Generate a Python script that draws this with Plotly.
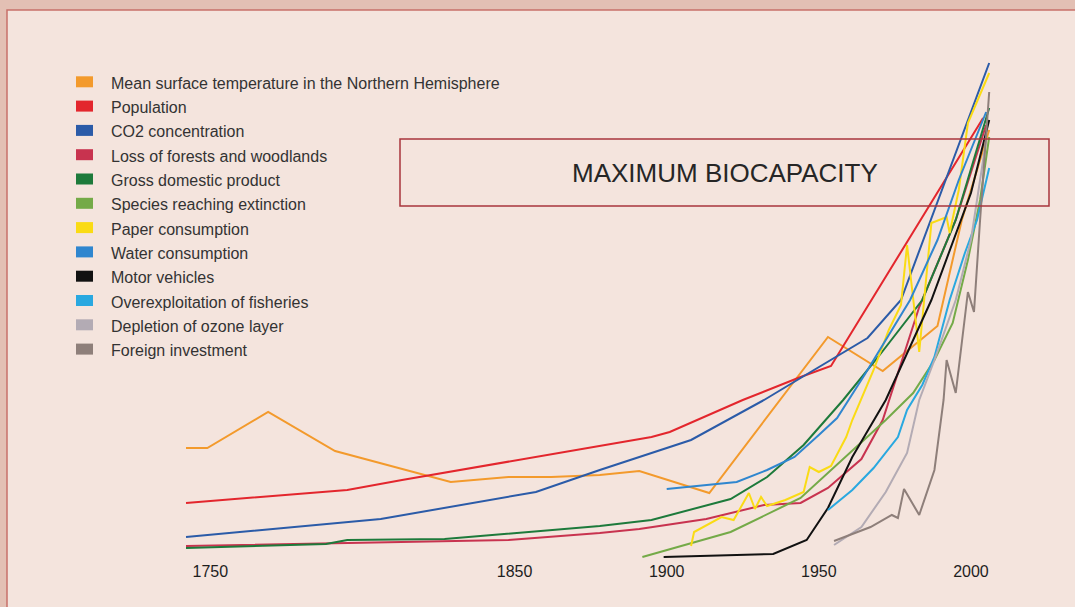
import plotly.graph_objects as go

# index values (0-100, no axis in the original)
temp_years = [1742, 1749, 1769, 1791, 1829, 1848, 1862, 1878, 1891, 1914, 1953, 1971, 1989, 1997, 2006]
temp_vals = [22.4, 22.4, 29.6, 21.8, 15.6, 16.6, 16.6, 17.0, 17.8, 13.4, 44.6, 37.8, 46.8, 68.0, 86.0]

pop_years = [1742, 1795, 1813, 1878, 1895, 1901, 1925, 1944, 1954, 2004]
pop_vals = [11.4, 14.0, 16.0, 22.8, 24.6, 25.6, 32.0, 36.6, 38.8, 88.4]

co2_years = [1742, 1806, 1857, 1878, 1908, 1932, 1944, 1966, 1977, 2006]
co2_vals = [4.6, 8.2, 13.6, 18.0, 24.0, 32.0, 36.4, 44.4, 52.0, 99.4]

forest_years = [1742, 1848, 1878, 1891, 1913, 1932, 1944, 1953, 1964, 1971, 1983, 1995, 2005]
forest_vals = [2.8, 4.0, 5.4, 6.2, 8.2, 11.0, 11.4, 14.4, 20.2, 28.0, 50.6, 68.0, 87.0]

gdp_years = [1742, 1788, 1795, 1827, 1878, 1895, 1921, 1933, 1945, 1958, 1970, 1984, 1995, 2006]
gdp_vals = [2.4, 3.2, 4.0, 4.2, 6.8, 8.0, 12.2, 16.6, 23.0, 32.0, 41.0, 52.0, 68.0, 90.4]

species_years = [1892, 1921, 1944, 1964, 1972, 1981, 1988, 1994, 1999, 2003, 2006]
species_vals = [0.6, 5.6, 12.4, 23.6, 28.0, 33.4, 40.0, 47.4, 60.0, 72.0, 84.6]

paper_years = [1908, 1909, 1918, 1922, 1927, 1929, 1931, 1933, 1939, 1945, 1947, 1950, 1954,
               1959, 1961, 1968, 1973, 1977, 1979, 1983, 1987, 1992, 1993, 1996, 1999, 2006]
paper_vals = [2.8, 5.6, 8.6, 8.0, 13.4, 10.2, 12.6, 10.8, 12.0, 13.6, 18.6, 17.6, 18.8,
              24.6, 28.0, 38.0, 46.0, 51.0, 63.0, 41.6, 67.4, 68.6, 65.4, 74.0, 87.4, 97.4]

water_years = [1900, 1913, 1923, 1933, 1942, 1950, 1956, 1965, 1974, 1980, 1989, 1996, 2005]
water_vals = [14.2, 15.0, 15.6, 18.0, 20.6, 25.0, 28.4, 37.0, 46.0, 52.0, 64.0, 76.0, 89.6]

motor_years = [1899, 1935, 1946, 1953, 1961, 1972, 1987, 2000, 2006]
motor_vals = [0.6, 1.2, 4.0, 10.4, 20.6, 32.0, 52.0, 73.4, 88.0]

fish_years = [1953, 1961, 1968, 1976, 1979, 1984, 1988, 1990, 1993, 1998, 2002, 2006]
fish_vals = [10.0, 14.0, 18.4, 24.6, 30.0, 35.0, 40.6, 45.0, 52.0, 61.4, 68.0, 78.4]

ozone_years = [1955, 1964, 1972, 1979, 1983, 1988, 1995, 2000, 2005]
ozone_vals = [3.0, 6.6, 13.6, 21.4, 32.0, 40.0, 52.0, 64.0, 84.0]

invest_years = [1955, 1967, 1974, 1976, 1978, 1983, 1988, 1991, 1992, 1995, 1999, 2001, 2003, 2006]
invest_vals = [3.8, 6.6, 9.0, 8.4, 14.2, 9.0, 18.0, 32.0, 40.0, 33.4, 53.6, 49.6, 68.0, 93.6]

tick_years = [1750, 1850, 1900, 1950, 2000]

series = [
    ("Mean surface temperature in the Northern Hemisphere", "#f39a2c", temp_years, temp_vals),
    ("Population", "#e3262d", pop_years, pop_vals),
    ("CO2 concentration", "#2b5ba8", co2_years, co2_vals),
    ("Loss of forests and woodlands", "#c8334f", forest_years, forest_vals),
    ("Gross domestic product", "#1d7a3b", gdp_years, gdp_vals),
    ("Species reaching extinction", "#74aa48", species_years, species_vals),
    ("Paper consumption", "#fadb14", paper_years, paper_vals),
    ("Water consumption", "#2f86cf", water_years, water_vals),
    ("Motor vehicles", "#111111", motor_years, motor_vals),
    ("Overexploitation of fisheries", "#29a8e0", fish_years, fish_vals),
    ("Depletion of ozone layer", "#b3abb4", ozone_years, ozone_vals),
    ("Foreign investment", "#8e7f7a", invest_years, invest_vals),
]

W, H = 1075, 607
PB = 47
PH = H - PB
FONT = "Liberation Sans, Arial, sans-serif"


def px(x):
    return x / W


def py(y):
    return 1 - y / PH


fig = go.Figure()
for name, color, xs, ys in series:
    fig.add_trace(go.Scatter(x=xs, y=ys, name=name, mode="lines",
                             line=dict(color=color, width=2), showlegend=False,
                             cliponaxis=False))

shapes = [
    # panel
    dict(type="rect", xref="paper", yref="paper", x0=px(7), x1=px(1090), y0=py(10), y1=py(620),
         fillcolor="#f4e4dd", line=dict(color="#c8706a", width=1.5), layer="below"),
    # biocapacity box
    dict(type="rect", xref="paper", yref="paper", x0=px(400), x1=px(1049), y0=py(139), y1=py(206),
         line=dict(color="#a8353c", width=1.5), layer="above"),
]
annotations = [
    dict(text="MAXIMUM BIOCAPACITY", xref="paper", yref="paper", x=px(725), y=py(173),
         xanchor="center", yanchor="middle", showarrow=False,
         font=dict(family=FONT, size=26, color="#262626")),
]

# hand-drawn legend with square swatches
for i, (name, color, _, _) in enumerate(series):
    ry = 83.3 + 24.3 * i
    shapes.append(dict(type="rect", xref="paper", yref="paper", x0=px(76), x1=px(93),
                       y0=py(ry - 7), y1=py(ry + 4), fillcolor=color, line=dict(width=0)))
    annotations.append(dict(text=name, xref="paper", yref="paper", x=px(109), y=py(ry),
                            xanchor="left", yanchor="middle", showarrow=False,
                            font=dict(family=FONT, size=16, color="#333333")))

fig.update_layout(
    width=W, height=H,
    margin=dict(l=0, r=0, t=0, b=PB),
    paper_bgcolor="#e3c0b4",
    plot_bgcolor="rgba(0,0,0,0)",
    shapes=shapes,
    annotations=annotations,
    xaxis=dict(range=[1680.86, 2034.2], tickvals=tick_years, ticktext=[str(t) for t in tick_years],
               showgrid=False, zeroline=False, showline=False, ticks="",
               tickfont=dict(family=FONT, size=16, color="#1e1e1e")),
    yaxis=dict(range=[0, 112], visible=False),
)

# drop the default 8px page margin so the figure sits at the window corner
fig.write_html("out.html", config={"displayModeBar": False},
               post_script="document.body.style.margin='0';")
